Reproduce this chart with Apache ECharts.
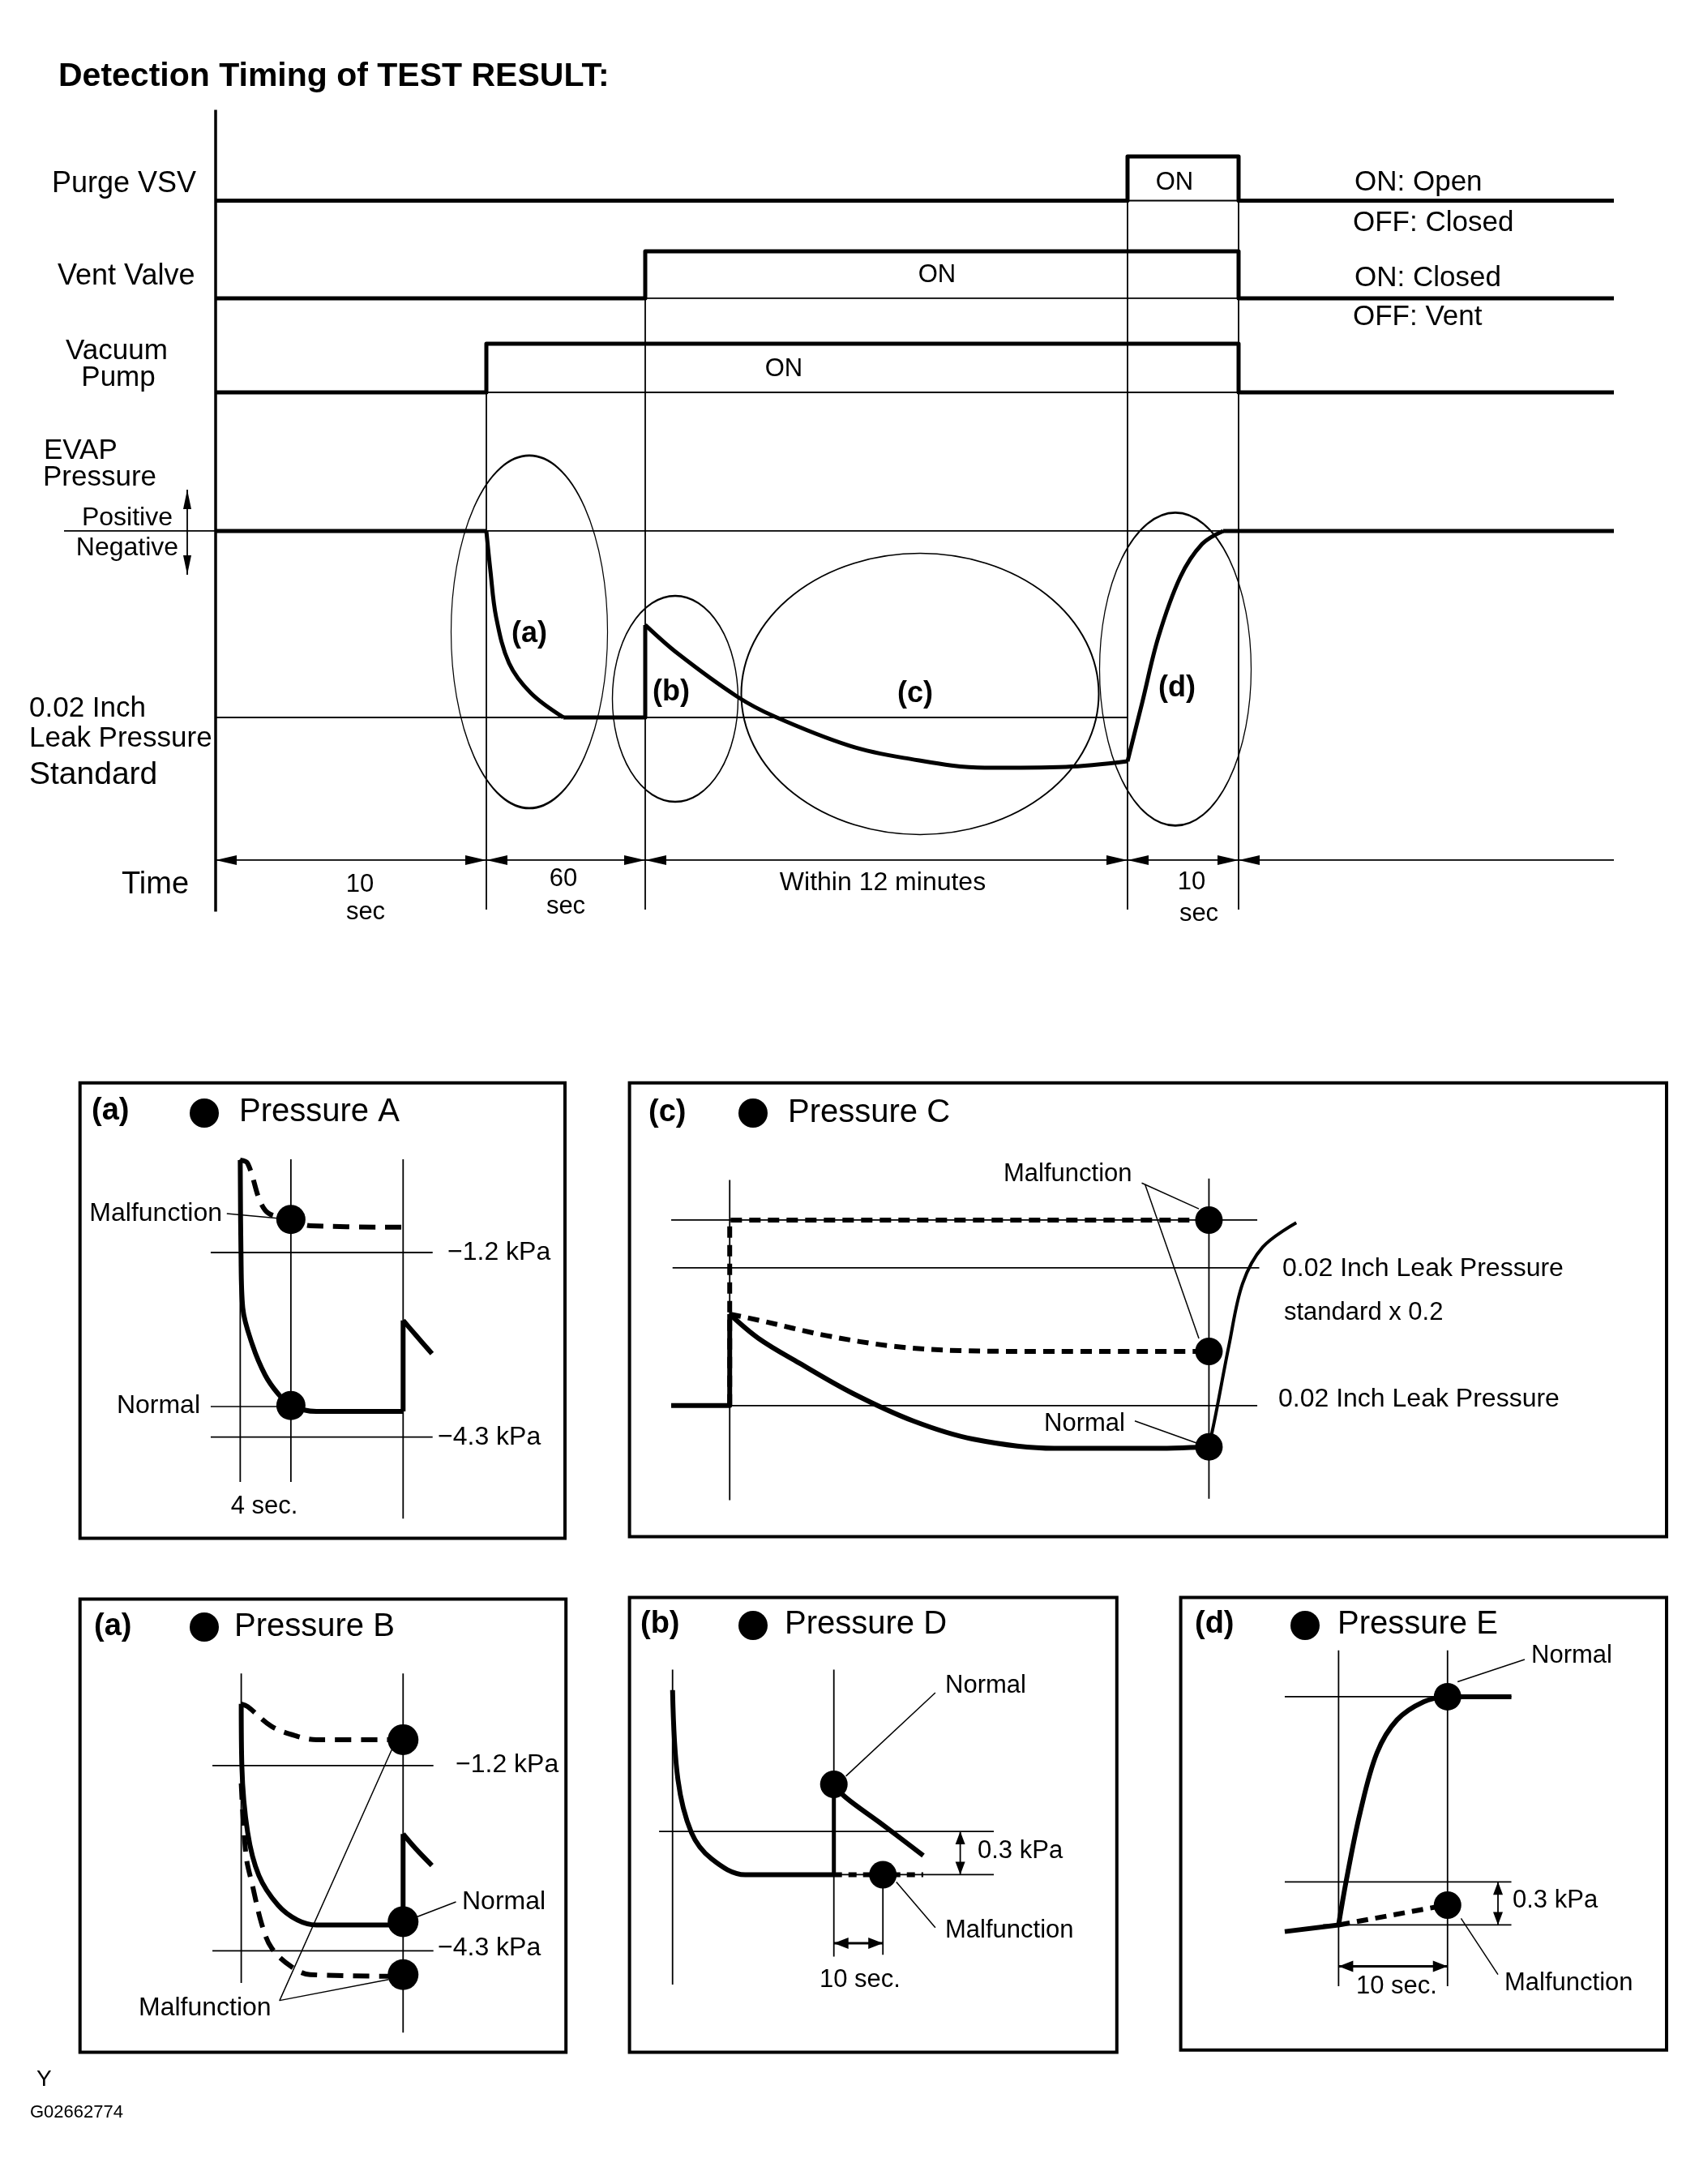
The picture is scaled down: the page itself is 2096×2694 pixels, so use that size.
<!DOCTYPE html>
<html><head><meta charset="utf-8">
<script src="https://cdn.jsdelivr.net/npm/echarts/dist/echarts.min.js"></script>
<style>html,body{margin:0;padding:0;background:#fff}#chart{width:2096px;height:2694px}</style>
</head><body><div id="chart"></div>
<script>
// ================= DATA =================
// Main timing chart. x = schematic time position; signals: 0 = OFF, 1 = ON
const phaseBounds = [0, 33.4, 53, 112.5, 126.2, 172.5];   // start, pump ON, vent ON, purge ON, end, right edge
const purgeVSV   = [[0,0],[112.5,0],[112.5,1],[126.2,1],[126.2,0],[172.5,0]];
const ventValve  = [[0,0],[53,0],[53,1],[126.2,1],[126.2,0],[172.5,0]];
const vacuumPump = [[0,0],[33.4,0],[33.4,1],[126.2,1],[126.2,0],[172.5,0]];
// EVAP pressure: 0 = atmospheric, -1 = 0.02 inch leak pressure standard
const evapIdle      = [[0,0],[33.4,0]];
const evapPumpDown  = [[33.4,0],[33.9,-0.213],[34.6,-0.461],[36.2,-0.709],[38.9,-0.87],[42.9,-1]];
const evapHold      = [[42.9,-1],[53,-1],[53,-0.504]];
const evapLeakCheck = [[53,-0.504],[57,-0.657],[64.3,-0.887],[69,-0.996],[78.2,-1.152],[84.9,-1.217],[94.9,-1.27],[104.9,-1.265],[112.5,-1.235]];
const evapPurge     = [[112.5,-1.235],[114.3,-0.922],[116.3,-0.57],[119,-0.248],[121.7,-0.07],[124.3,0]];
const evapAfter     = [[124.3,0],[172.5,0]];
const regionCenters = [[38.7,-0.541],[56.7,-0.9],[86.9,-0.874],[118.4,-0.741]];   // (a) (b) (c) (d)
const signalHighTops = [1.004, 1.5, 2.009, 2.009];     // where each phase guide starts (EVAP units)
const timeRowLevel = -1.765;
const timeLabels = ['10\nsec', '60\nsec', 'Within 12 minutes', '10\nsec'];

// Panel (a) Pressure A : x = sec, y = kPa
const aNormal   = [[0,0.353],[0.06,-1.21],[0.2,-2.13],[0.96,-2.75],[1.97,-3.26],[2.98,-3.57],[4,-3.77],[6.02,-3.87],[12.86,-3.87]];
const aNext     = [[12.86,-3.87],[12.86,-2.34]];
const aNextDecay= [[12.86,-2.34],[13.87,-2.59],[15.14,-2.9]];
const aMalf     = [[0,0.353],[0.58,0.3],[1.97,-0.49],[4,-0.645],[5.52,-0.75],[12.86,-0.775]];
const aDots     = [[4,-0.645],[4,-3.77]];
const aLevels   = [-1.2, -4.3];
const aTimes    = [0, 4, 12.86];

// Panel (a) Pressure B
const bNormal   = [[0,-0.169],[0.05,-1.21],[0.51,-2.318],[1.4,-3.039],[2.92,-3.537],[4.46,-3.786],[5.98,-3.869],[12.86,-3.869]];
const bNext     = [[12.86,-3.869],[12.86,-2.345]];
const bNextDecay= [[12.86,-2.345],[13.88,-2.595],[15.15,-2.872]];
const bMalfHigh = [[0,-0.169],[0.51,-0.214],[2.42,-0.546],[4.46,-0.711],[5.98,-0.767],[12.86,-0.767]];
const bMalfLow  = [[0,-1.5],[0.38,-2.706],[0.89,-3.204],[1.65,-3.869],[2.42,-4.256],[3.95,-4.561],[5.47,-4.699],[12.86,-4.728]];
const bDots     = [[12.86,-0.767],[12.86,-3.813],[12.86,-4.7]];
const bLevels   = [-1.2, -4.3];

// Panel (c) Pressure C : x = minutes, y = pressure / leak standard
const cBase     = [[-1.465,-1],[0,-1],[0,-0.469]];
const cNormal   = [[0,-0.469],[0.723,-0.61],[1.733,-0.752],[3.081,-0.929],[4.595,-1.089],[6.105,-1.195],[8.129,-1.248],[10.485,-1.248],[12,-1.239]];
const cRise     = [[12,-1.239],[12.168,-1.053],[12.505,-0.646],[12.842,-0.292],[13.345,-0.08],[14.187,0.062]];
const cMalfLow  = [[0,-0.469],[0.723,-0.504],[2.407,-0.593],[4.09,-0.655],[5.772,-0.681],[7.455,-0.685],[12,-0.685]];
const cMalfHigh = [[0,-1],[0,0.077],[12,0.077]];
const cDots     = [[12,0.077],[12,-0.685],[12,-1.239]];
const cLevels   = [0.077, -0.2, -1];

// Panel (b) Pressure D : x = sec, y = kPa above the held level
const dPumpDown = [[-32.89,1.279],[-31.8,0.66],[-29.06,0.293],[-24.94,0.11],[-18.08,0],[0,0]];
const dJump     = [[0,0],[0,0.626]];
const dNormal   = [[0,0.626],[2.46,0.534],[9.32,0.362],[18.23,0.133]];
const dMalf     = [[0,0],[18.23,0]];
const dDots     = [[0,0.626],[10,0]];

// Panel (d) Pressure E : x = sec, y = kPa
const eBefore   = [[-4.94,-0.046],[0,0]];
const eNormal   = [[0,0],[0.74,0.323],[1.98,0.784],[3.52,1.199],[5.37,1.43],[7.84,1.557],[10,1.591]];
const eAfter    = [[10,1.591],[15.86,1.591]];
const eMalf     = [[0,0],[9.07,0.127]];
const eDots     = [[10,1.591],[10,0.138]];

// ================= LAYOUT / STYLE =================
const FONT = "'Liberation Sans', Arial, Helvetica, sans-serif";
const GRIDS = [
  {name:'main',  left:66,    top:125,    width:1927,  height:1000,  x:[-20,172.7],   y:[-2.0435,2.304]},
  {name:'purge', left:66,    top:192.9,  width:1927,  height:54.6,  x:[-20,172.7],   y:[0,1]},
  {name:'vent',  left:66,    top:310,    width:1927,  height:57.9,  x:[-20,172.7],   y:[0,1]},
  {name:'pump',  left:66,    top:424,    width:1927,  height:60,    x:[-20,172.7],   y:[0,1]},
  {name:'A',     left:98.7,  top:1335.8, width:598.3, height:561.7, x:[-12.65,25.64], y:[-6.001,1.649], box:true},
  {name:'C',     left:776.6, top:1335.8, width:1279.4,height:559.8, x:[-2.509,23.459],y:[-1.761,0.873], box:true},
  {name:'B',     left:98.7,  top:1972.4, width:599.5, height:559.2, x:[-12.81,25.8],  y:[-6.0,1.587],   box:true},
  {name:'D',     left:776.6, top:1970.5, width:601.2, height:561.1, x:[-41.67,57.7],  y:[-1.231,1.921], box:true},
  {name:'E',     left:1456.6,top:1970.5, width:599.4, height:558.3, x:[-14.49,30.104],y:[-0.872,2.2825],box:true}
];
const GI = {}; GRIDS.forEach((g,i)=>GI[g.name]=i);

const series = [];
function line(g, data, w, o) {
  o = o || {};
  series.push({
    type:'line', xAxisIndex:GI[g], yAxisIndex:GI[g], data:data,
    showSymbol:false, symbol:'none', silent:true, clip:false, animation:false,
    smooth:o.smooth ? o.smooth : false,
    lineStyle:{color:'#000', width:w, type:o.dash || 'solid', cap:o.cap || 'butt', join:'round', opacity:1},
    z:o.z || 3
  });
}
function seg(g, a, b, w, o) { line(g, [a, b], w, o); }
function dots(g, data, size) {
  series.push({type:'scatter', xAxisIndex:GI[g], yAxisIndex:GI[g], data:data, symbol:'circle',
    symbolSize:size || 36, itemStyle:{color:'#000', opacity:1}, silent:true, animation:false, clip:false, z:6});
}
function arrows(g, data, len, half) {
  series.push({type:'custom', coordinateSystem:'cartesian2d', xAxisIndex:GI[g], yAxisIndex:GI[g],
    data:data, silent:true, animation:false, clip:false, z:6,
    renderItem:function(params, api){
      const p = api.coord([api.value(0), api.value(1)]);
      const d = api.value(2), x = p[0], y = p[1];
      let pts;
      if (d === 0) pts = [[x,y],[x-len,y-half],[x-len,y+half]];
      else if (d === 1) pts = [[x,y],[x+len,y-half],[x+len,y+half]];
      else if (d === 2) pts = [[x,y],[x-half,y+len],[x+half,y+len]];
      else pts = [[x,y],[x-half,y-len],[x+half,y-len]];
      return {type:'polygon', shape:{points:pts}, style:{fill:'#000'}};
    }});
}
const THIN = 1.8, THICK = 5, PT = 6, SM = 0.35;   // line widths, smoothing

// ---------- main diagram ----------
seg('main', [0,2.258], [0,-2.041], 3.5);                                   // main axis
phaseBounds.slice(1,5).forEach((x,i)=> seg('main', [x, signalHighTops[i]], [x,-2.03], THIN));
seg('main', [-18.7,0], [phaseBounds[5],0], THIN);                          // positive / negative
seg('main', [0,-1], [phaseBounds[3],-1], THIN);                            // leak standard
seg('main', [0,timeRowLevel], [phaseBounds[5],timeRowLevel], THIN);        // time row
seg('main', [-3.5,0.222], [-3.5,-0.235], THIN);
const timeArrows = [];
phaseBounds.slice(0,5).forEach((x,i)=>{ if (i>0) timeArrows.push([x,timeRowLevel,0]); timeArrows.push([x,timeRowLevel,1]); });
arrows('main', timeArrows, 26, 6);
arrows('main', [[-3.5,0.222,2],[-3.5,-0.235,3]], 24, 5);

seg('purge', [phaseBounds[3],0], [phaseBounds[4],0], THIN);
seg('vent',  [phaseBounds[2],0], [phaseBounds[4],0], THIN);
seg('pump',  [phaseBounds[1],0], [phaseBounds[4],0], THIN);
line('purge', purgeVSV, THICK, {z:4});
line('vent',  ventValve, THICK, {z:4});
line('pump',  vacuumPump, THICK, {z:4});

line('main', evapIdle, THICK, {z:4});
line('main', evapPumpDown, THICK, {smooth:SM, z:4});
line('main', evapHold, THICK, {z:4});
line('main', evapLeakCheck, THICK, {smooth:SM, z:4});
line('main', evapPurge, THICK, {smooth:SM, z:4});
line('main', evapAfter, THICK, {z:4});

const ellipseSizes = [[193,435],[155,254],[441,347],[187,386]];
series.push({type:'scatter', xAxisIndex:GI.main, yAxisIndex:GI.main, data:regionCenters,
  symbol:'path://M0,50A50,50,0,1,1,100,50A50,50,0,1,1,0,50Z', symbolKeepAspect:false,
  symbolSize:function(v, p){ return ellipseSizes[p.dataIndex]; },
  itemStyle:{color:'rgba(0,0,0,0)', borderColor:'#000', borderWidth:1.8, opacity:1}, silent:true, animation:false, clip:false, z:2});

// ---------- panel A ----------
aLevels.forEach(v=> seg('A', [-2.33,v], [15.19,v], THIN));
seg('A', [aTimes[0],0.366], [aTimes[0],-5.055], THIN);
seg('A', [aTimes[1],0.366], [aTimes[1],-5.055], THIN);
seg('A', [aTimes[2],0.366], [aTimes[2],-5.67], THIN);
line('A', aNormal, PT, {smooth:SM, z:4});
line('A', aNext, PT, {z:4});
line('A', aNextDecay, PT, {smooth:SM, z:4});
line('A', aMalf, PT, {smooth:SM, dash:[20,12], z:4});
seg('A', [-1.06,-0.546], [4,-0.645], 1.5);
seg('A', [-2.33,-3.788], [4,-3.788], 1.5);
dots('A', aDots, 36);

// ---------- panel B ----------
bLevels.forEach(v=> seg('B', [-2.29,v], [15.27,v], THIN));
seg('B', [0,0.34], [0,-4.839], THIN);
seg('B', [12.86,0.34], [12.86,-5.668], THIN);
line('B', bNormal, PT, {smooth:SM, z:4});
line('B', bNext, PT, {z:4});
line('B', bNextDecay, PT, {smooth:SM, z:4});
line('B', bMalfHigh, PT, {smooth:SM, dash:[20,12], z:4});
line('B', bMalfLow, PT, {smooth:SM, dash:[20,12], z:4});
line('B', [[11.96,-0.934],[3.05,-5.132],[11.71,-4.782]], 1.5);
seg('B', [14.0,-3.73], [17.06,-3.481], 1.5);
dots('B', bDots, 38);

// ---------- panel C ----------
seg('C', [-1.465,cLevels[0]], [13.21,cLevels[0]], THIN);
seg('C', [-1.431,cLevels[1]], [13.26,cLevels[1]], THIN);
seg('C', [-1.465,cLevels[2]], [13.21,cLevels[2]], THIN);
seg('C', [0,0.31], [0,-1.549], THIN);
seg('C', [12,0.318], [12,-1.54], THIN);
line('C', cBase, PT, {z:4});
line('C', cNormal, PT, {smooth:SM, z:4});
line('C', cRise, 4, {smooth:SM, z:4});
line('C', cMalfLow, PT, {smooth:SM, dash:[14,9], z:4});
line('C', cMalfHigh, PT, {dash:[14,9], z:4});
seg('C', [10.317,0.292], [11.748,0.142], 1.5);
seg('C', [10.4,0.284], [11.748,-0.61], 1.5);
seg('C', [10.144,-1.089], [11.748,-1.222], 1.5);
dots('C', cDots, 34);

// ---------- panel D ----------
seg('D', [-32.89,1.421], [-32.89,-0.762], THIN);
seg('D', [0,1.421], [0,-0.567], THIN);
seg('D', [10,0], [10,-0.555], THIN);
seg('D', [-35.64,0.3], [32.61,0.3], THIN);
seg('D', [-18.08,0], [32.61,0], THIN);
line('D', dPumpDown, PT, {smooth:SM, z:4});
line('D', dJump, PT-1, {z:4});
line('D', dNormal, PT, {smooth:SM, z:4});
line('D', dMalf, PT, {dash:[10,8], z:4});
seg('D', [25.77,0], [25.77,0.3], THIN);
arrows('D', [[25.77,0.3,2],[25.77,0,3]], 16, 6);
seg('D', [0,-0.475], [10,-0.475], 3);
arrows('D', [[0,-0.475,1],[10,-0.475,0]], 18, 7);
seg('D', [20.69,1.261], [2.46,0.683], 1.5);
seg('D', [20.69,-0.367], [12.74,-0.051], 1.5);
dots('D', dDots, 34);

// ---------- panel E ----------
seg('E', [-4.94,1.591], [15.86,1.591], THIN);
seg('E', [-4.94,0.3], [15.86,0.3], THIN);
seg('E', [-1.42,0], [15.86,0], THIN);
seg('E', [0,1.914], [0,-0.427], THIN);
seg('E', [10,1.914], [10,-0.427], THIN);
line('E', eBefore, PT, {z:4});
line('E', eNormal, PT, {smooth:SM, z:4});
line('E', eAfter, PT, {z:4});
line('E', eMalf, PT, {dash:[14,9], z:4});
seg('E', [14.63,0], [14.63,0.3], THIN);
arrows('E', [[14.63,0.3,2],[14.63,0,3]], 16, 6);
seg('E', [0,-0.288], [10,-0.288], 3);
arrows('E', [[0,-0.288,1],[10,-0.288,0]], 18, 7);
seg('E', [17.08,1.85], [10.92,1.695], 1.5);
seg('E', [14.63,-0.346], [11.24,0.046], 1.5);
dots('E', eDots, 34);

// ---------- texts ----------
const graphic = [];
function T(text, x, y, size, align, weight) {
  graphic.push({type:'text', x:x, y:y, silent:true, z:20,
    style:{text:text, font:(weight||'normal')+' '+size+'px '+FONT, fill:'#000',
      textAlign:align||'left', align:align||'left', textVerticalAlign:'middle', verticalAlign:'middle', lineHeight:size*1.05}});
}
function titleDot(x, y) { graphic.push({type:'circle', shape:{cx:x, cy:y, r:18}, style:{fill:'#000'}, silent:true, z:20}); }

T('Detection Timing of TEST RESULT:', 72, 95, 41, 'left', 'bold');
T('Purge VSV', 64, 227, 36); T('Vent Valve', 71, 341, 36);
T('Vacuum', 144, 433, 35, 'center'); T('Pump', 146, 466, 35, 'center');
T('EVAP', 54, 556, 35); T('Pressure', 53, 589, 35);
T('Positive', 157, 639, 32, 'center'); T('Negative', 157, 676, 32, 'center');
T('0.02 Inch', 36, 874, 35); T('Leak Pressure', 36, 911, 35); T('Standard', 36, 956, 39);
T('Time', 150, 1092, 38);
T('10', 444, 1091, 31, 'center'); T('sec', 451, 1125, 31, 'center');
T('60', 695, 1084, 31, 'center'); T('sec', 698, 1118, 31, 'center');
T(timeLabels[2], 1089, 1089, 32, 'center');
T('10', 1470, 1088, 31, 'center'); T('sec', 1479, 1127, 31, 'center');
T('ON', 1449, 225, 31, 'center'); T('ON', 1156, 339, 31, 'center'); T('ON', 967, 455, 31, 'center');
T('ON: Open', 1671, 225, 35); T('OFF: Closed', 1669, 275, 35);
T('ON: Closed', 1671, 343, 35); T('OFF: Vent', 1669, 391, 35);
T('(a)', 653, 782, 36, 'center', 'bold'); T('(b)', 828, 854, 36, 'center', 'bold');
T('(c)', 1129, 856, 36, 'center', 'bold'); T('(d)', 1452, 849, 36, 'center', 'bold');

// panel A
T('(a)', 113, 1371, 38, 'left', 'bold'); titleDot(252, 1373); T('Pressure A', 295, 1372, 40);
T('Malfunction', 274, 1497, 32, 'right'); T('Normal', 247, 1734, 32, 'right');
T('−1.2 kPa', 552, 1545, 32); T('−4.3 kPa', 540, 1773, 32);
T('4 sec.', 326, 1858, 31, 'center');
// panel B
T('(a)', 116, 2007, 38, 'left', 'bold'); titleDot(252, 2007); T('Pressure B', 289, 2007, 40);
T('−1.2 kPa', 562, 2177, 32); T('−4.3 kPa', 540, 2403, 32);
T('Normal', 570, 2346, 32); T('Malfunction', 171, 2477, 32);
// panel C
T('(c)', 800, 1373, 38, 'left', 'bold'); titleDot(929, 1373); T('Pressure C', 972, 1373, 40);
T('Malfunction', 1238, 1448, 31); T('Normal', 1288, 1756, 31);
T('0.02 Inch Leak Pressure', 1582, 1565, 32); T('standard x 0.2', 1584, 1619, 31);
T('0.02 Inch Leak Pressure', 1577, 1726, 32);
// panel D
T('(b)', 790, 2004, 38, 'left', 'bold'); titleDot(929, 2005); T('Pressure D', 968, 2004, 40);
T('Normal', 1166, 2079, 31); T('0.3 kPa', 1206, 2283, 31);
T('Malfunction', 1166, 2381, 31); T('10 sec.', 1061, 2442, 31, 'center');
// panel E
T('(d)', 1474, 2004, 38, 'left', 'bold'); titleDot(1610, 2005); T('Pressure E', 1650, 2004, 40);
T('Normal', 1889, 2042, 31); T('0.3 kPa', 1866, 2344, 31);
T('Malfunction', 1856, 2446, 31); T('10 sec.', 1723, 2450, 31, 'center');
// footer
T('Y', 45, 2565, 28); T('G02662774', 37, 2606, 22);

const chart = echarts.init(document.getElementById('chart'), null, {renderer:'canvas'});
chart.setOption({
  backgroundColor:'#fff',
  animation:false,
  grid: GRIDS.map(g=>({left:g.left, top:g.top, width:g.width, height:g.height, containLabel:false,
    show:!!g.box, borderColor:'#000', borderWidth:g.box?4:0, backgroundColor:'rgba(0,0,0,0)'})),
  xAxis: GRIDS.map((g,i)=>({type:'value', gridIndex:i, min:g.x[0], max:g.x[1], show:false, splitLine:{show:false}})),
  yAxis: GRIDS.map((g,i)=>({type:'value', gridIndex:i, min:g.y[0], max:g.y[1], show:false, splitLine:{show:false}})),
  series: series,
  graphic: graphic
});
</script></body></html>
